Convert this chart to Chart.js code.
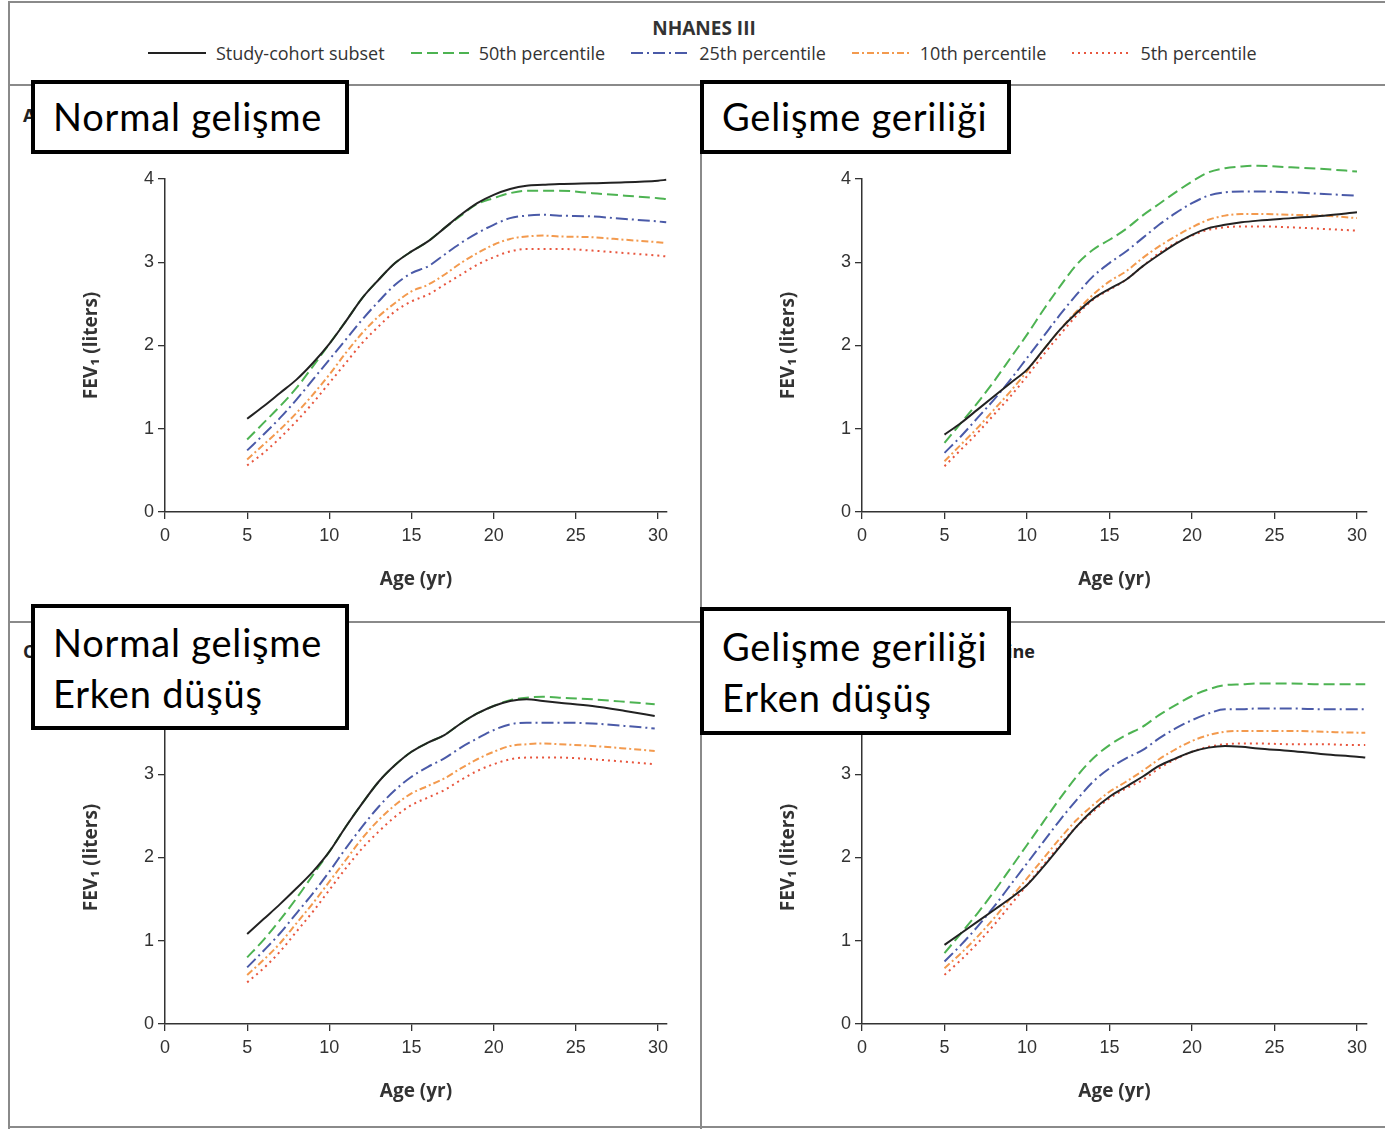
<!DOCTYPE html>
<html>
<head>
<meta charset="utf-8">
<script src="https://cdn.jsdelivr.net/npm/chart.js@4.4.1/dist/chart.umd.min.js"></script>
<style>
  body { margin: 0; background: #fff; width: 1385px; height: 1129px; position: relative; overflow: hidden; font-family: 'Open Sans', sans-serif; }
  .ln { position: absolute; background: #8a8a8a; }
  canvas { position: absolute; }
  .plab { position: absolute; font-weight: 700; font-size: 18px; color: #222; white-space: nowrap; }
  .box { position: absolute; border: 4px solid #000; background: #fff; box-sizing: border-box; font-family: Lato, sans-serif; font-size: 38px; letter-spacing: 0.8px; line-height: 51px; color: #000; padding-left: 18px; white-space: nowrap; }
  #ttl { position: absolute; left: 0; width: 1408px; top: 15px; text-align: center; font-weight: 700; font-size: 19px; color: #333; }
  #legend { position: absolute; left: 148px; top: 41px; display: flex; align-items: center; gap: 26px; font-size: 18px; color: #333; }
  #legend .it { display: flex; align-items: center; }
  #legend span { margin-left: 10px; }
</style>
</head>
<body>

<!-- frame -->
<div class="ln" style="left:8px;top:1px;width:1377px;height:2px"></div>
<div class="ln" style="left:8px;top:1px;width:2px;height:1128px"></div>
<div class="ln" style="left:8px;top:84px;width:1377px;height:2px"></div>
<div class="ln" style="left:8px;top:621px;width:1377px;height:2px"></div>
<div class="ln" style="left:700px;top:85px;width:2px;height:1044px"></div>
<div class="ln" style="left:8px;top:1126px;width:1377px;height:2px"></div>

<div id="ttl">NHANES III</div>
<div id="legend"></div>

<!-- panel labels (mostly hidden under the boxes) -->
<div class="plab" style="left:23px;top:103px">A&nbsp;&nbsp;Normal growth</div>
<div class="plab" style="left:720px;top:103px">B&nbsp;&nbsp;Reduced growth</div>
<div class="plab" style="left:23px;top:639px">C&nbsp;&nbsp;Normal growth, early decline</div>
<div class="plab" style="right:350px;top:639px">D&nbsp;&nbsp;Reduced growth, early decline</div>

<canvas id="chartA"></canvas>
<canvas id="chartB"></canvas>
<canvas id="chartC"></canvas>
<canvas id="chartD"></canvas>

<div class="box" style="left:31px;top:80px;width:318px;height:74px;padding-top:7px">Normal gelişme</div>
<div class="box" style="left:700px;top:80px;width:311px;height:74px;padding-top:7px">Gelişme geriliği</div>
<div class="box" style="left:31px;top:604px;width:318px;height:126px;padding-top:9px">Normal gelişme<br>Erken düşüş</div>
<div class="box" style="left:700px;top:607px;width:311px;height:128px;padding-top:10px">Gelişme geriliği<br>Erken düşüş</div>

<script>
// axis ticks
const xTicks = [0, 5, 10, 15, 20, 25, 30];
const yTicks = [0, 1, 2, 3, 4];

// A - normal growth
const agesA   = [5,6,7,8,9,10,11,12,13,14,15,16,17,18,19,20,21,22,23,24,26,28,30,30.5];
const cohortA = [1.12,1.27,1.43,1.59,1.79,2.02,2.29,2.57,2.79,2.99,3.13,3.25,3.41,3.57,3.71,3.81,3.88,3.92,3.93,3.94,3.95,3.96,3.98,3.99];
const p50A    = [0.87,1.07,1.27,1.49,1.75,2.02,2.29,2.57,2.79,2.99,3.13,3.25,3.41,3.56,3.70,3.77,3.83,3.86,3.86,3.86,3.83,3.80,3.77,3.76];
const p25A    = [0.74,0.93,1.13,1.35,1.59,1.83,2.07,2.31,2.53,2.73,2.87,2.95,3.09,3.23,3.35,3.45,3.53,3.56,3.57,3.56,3.55,3.52,3.49,3.48];
const p10A    = [0.63,0.81,0.99,1.19,1.41,1.65,1.91,2.15,2.35,2.51,2.65,2.73,2.85,2.99,3.11,3.21,3.28,3.31,3.32,3.31,3.30,3.27,3.24,3.23];
const p5A     = [0.56,0.71,0.89,1.09,1.31,1.55,1.79,2.03,2.23,2.41,2.53,2.61,2.73,2.85,2.97,3.06,3.13,3.16,3.16,3.16,3.14,3.11,3.08,3.07];

// B - reduced growth
const agesB   = [5,6,7,8,9,10,11,12,13,14,15,16,17,18,19,20,21,22,23,24,26,28,30];
const cohortB = [0.93,1.07,1.23,1.39,1.55,1.71,1.95,2.19,2.39,2.56,2.68,2.79,2.95,3.09,3.22,3.33,3.41,3.45,3.48,3.50,3.53,3.56,3.60];
const p50B    = [0.83,1.07,1.31,1.57,1.85,2.13,2.43,2.71,2.97,3.15,3.27,3.40,3.56,3.70,3.84,3.97,4.08,4.13,4.15,4.16,4.14,4.12,4.09];
const p25B    = [0.71,0.91,1.13,1.35,1.59,1.85,2.11,2.37,2.61,2.83,2.99,3.13,3.29,3.45,3.59,3.71,3.80,3.84,3.85,3.85,3.84,3.82,3.80];
const p10B    = [0.61,0.81,1.01,1.23,1.45,1.69,1.95,2.19,2.41,2.61,2.77,2.89,3.05,3.19,3.31,3.42,3.51,3.56,3.58,3.58,3.57,3.56,3.53];
const p5B     = [0.55,0.75,0.95,1.17,1.39,1.63,1.89,2.13,2.36,2.55,2.67,2.79,2.95,3.11,3.23,3.32,3.39,3.42,3.43,3.43,3.42,3.40,3.38];

// C - normal growth, early decline
const agesC   = [5,6,7,8,9,10,11,12,13,14,15,16,17,18,19,20,21,22,23,24,26,28,29.8];
const cohortC = [1.08,1.26,1.44,1.63,1.83,2.07,2.37,2.65,2.91,3.11,3.27,3.38,3.47,3.61,3.73,3.82,3.88,3.90,3.88,3.86,3.82,3.76,3.70];
const p50C    = [0.80,1.01,1.25,1.51,1.79,2.07,2.37,2.65,2.91,3.11,3.27,3.38,3.47,3.61,3.73,3.82,3.89,3.92,3.93,3.92,3.90,3.87,3.84];
const p25C    = [0.68,0.88,1.09,1.33,1.57,1.83,2.11,2.37,2.61,2.81,2.97,3.09,3.19,3.32,3.43,3.53,3.60,3.62,3.62,3.62,3.61,3.58,3.55];
const p10C    = [0.59,0.77,0.97,1.21,1.45,1.71,1.97,2.23,2.45,2.63,2.77,2.86,2.95,3.07,3.18,3.27,3.34,3.36,3.37,3.36,3.34,3.31,3.28];
const p5C     = [0.50,0.67,0.87,1.11,1.35,1.61,1.87,2.11,2.31,2.49,2.63,2.72,2.81,2.93,3.04,3.12,3.18,3.20,3.20,3.20,3.18,3.15,3.12];

// D - reduced growth, early decline
const agesD   = [5,6,7,8,9,10,11,12,13,14,15,16,17,18,19,20,21,22,23,24,26,28,30,30.5];
const cohortD = [0.95,1.09,1.23,1.37,1.51,1.67,1.89,2.13,2.37,2.57,2.73,2.85,2.97,3.10,3.19,3.27,3.32,3.34,3.33,3.31,3.28,3.24,3.21,3.20];
const p50D    = [0.85,1.09,1.33,1.59,1.87,2.15,2.43,2.71,2.97,3.19,3.35,3.47,3.57,3.71,3.83,3.94,4.02,4.07,4.08,4.09,4.09,4.08,4.08,4.08];
const p25D    = [0.75,0.95,1.17,1.41,1.67,1.93,2.19,2.45,2.69,2.91,3.07,3.19,3.29,3.43,3.55,3.65,3.73,3.78,3.78,3.79,3.79,3.78,3.78,3.78];
const p10D    = [0.67,0.85,1.05,1.27,1.51,1.75,1.99,2.23,2.45,2.63,2.79,2.91,3.04,3.18,3.30,3.40,3.47,3.51,3.52,3.52,3.52,3.51,3.50,3.50];
const p5D     = [0.59,0.77,0.97,1.19,1.43,1.67,1.91,2.15,2.37,2.55,2.71,2.83,2.93,3.07,3.18,3.27,3.33,3.36,3.37,3.37,3.36,3.36,3.35,3.35];

const styles = [
  { label: 'Study-cohort subset', color: '#222222', dash: [],           width: 2 },
  { label: '50th percentile',     color: '#4db352', dash: [11, 5],      width: 2 },
  { label: '25th percentile',     color: '#4a5aa8', dash: [12, 4, 2, 4], width: 2 },
  { label: '10th percentile',     color: '#f39a4e', dash: [7, 3, 2, 3],  width: 2 },
  { label: '5th percentile',      color: '#e8563e', dash: [2, 4],       width: 2 }
];

// legend up top
const legendEl = document.getElementById('legend');
styles.forEach(s => {
  const it = document.createElement('div');
  it.className = 'it';
  it.innerHTML = `<svg width="58" height="10"><line x1="0" y1="5" x2="58" y2="5" stroke="${s.color}" stroke-width="1.8" stroke-dasharray="${s.dash.length ? s.dash.join(' ') : 'none'}"/></svg><span>${s.label}</span>`;
  legendEl.appendChild(it);
});

const tickFont = { family: "'Liberation Sans Narrow', 'Liberation Sans', sans-serif", size: 18 };
const titleFont = { family: "'Open Sans', sans-serif", size: 19, weight: 'bold' };

// frame = canvas position/size, area = wanted chart area (page px)
function makePanel(id, frame, area, ages, series) {
  const cv = document.getElementById(id);
  cv.width = frame.w; cv.height = frame.h;
  cv.style.left = frame.x + 'px'; cv.style.top = frame.y + 'px';
  const xMax = 30 * (area.right - area.left) / (area.x30 - area.left);
  const lh = titleFont.size * 1.2;

  new Chart(cv, {
    type: 'line',
    data: {
      datasets: series.map((vals, i) => ({
        label: styles[i].label,
        data: ages.map((a, j) => ({ x: a, y: vals[j] })),
        borderColor: styles[i].color,
        borderDash: styles[i].dash,
        borderWidth: styles[i].width,
        pointRadius: 0,
        cubicInterpolationMode: 'monotone',
        fill: false,
        clip: false
      }))
    },
    options: {
      responsive: false,
      animation: false,
      devicePixelRatio: 1,
      layout: { padding: { left: 0, top: area.top - frame.y, right: frame.x + frame.w - area.right, bottom: 0 } },
      plugins: { legend: { display: false }, tooltip: { enabled: false } },
      scales: {
        x: {
          type: 'linear', min: 0, max: xMax,
          afterBuildTicks: s => { s.ticks = xTicks.map(v => ({ value: v })); },
          afterFit: s => { s.height = frame.y + frame.h - area.bottom; },
          grid: { drawOnChartArea: false, tickLength: 7, color: '#333', lineWidth: 1.3 },
          border: { color: '#333', width: 1.5 },
          ticks: { font: tickFont, color: '#333', padding: 6, maxRotation: 0 },
          title: { display: true, text: 'Age (yr)', font: titleFont, color: '#333',
                   padding: { top: 0, bottom: frame.y + frame.h - area.xTitleY - lh / 2 } }
        },
        y: {
          type: 'linear', min: 0, max: 4,
          afterBuildTicks: s => { s.ticks = yTicks.map(v => ({ value: v })); },
          afterFit: s => { s.width = area.left - frame.x; },
          grid: { drawOnChartArea: false, tickLength: 7, color: '#333', lineWidth: 1.3 },
          border: { color: '#333', width: 1.5 },
          ticks: { font: tickFont, color: '#333', padding: 4 },
          title: { display: true, text: 'FEV\u2081 (liters)', font: titleFont, color: '#333',
                   padding: { top: area.yTitleX - frame.x - lh / 2, bottom: 0 } }
        }
      }
    }
  });
}

makePanel('chartA', { x: 10, y: 87, w: 690, h: 534 },
  { left: 165, top: 179, right: 667, bottom: 512, x30: 658, yTitleX: 92, xTitleY: 580 },
  agesA, [cohortA, p50A, p25A, p10A, p5A]);
makePanel('chartB', { x: 703, y: 87, w: 682, h: 534 },
  { left: 862, top: 179, right: 1367, bottom: 512, x30: 1357, yTitleX: 789, xTitleY: 580 },
  agesB, [cohortB, p50B, p25B, p10B, p5B]);
makePanel('chartC', { x: 10, y: 624, w: 690, h: 502 },
  { left: 165, top: 691, right: 667, bottom: 1024, x30: 658, yTitleX: 92, xTitleY: 1092 },
  agesC, [cohortC, p50C, p25C, p10C, p5C]);
makePanel('chartD', { x: 703, y: 624, w: 682, h: 502 },
  { left: 862, top: 691, right: 1367, bottom: 1024, x30: 1357, yTitleX: 789, xTitleY: 1092 },
  agesD, [cohortD, p50D, p25D, p10D, p5D]);
</script>
</body>
</html>
